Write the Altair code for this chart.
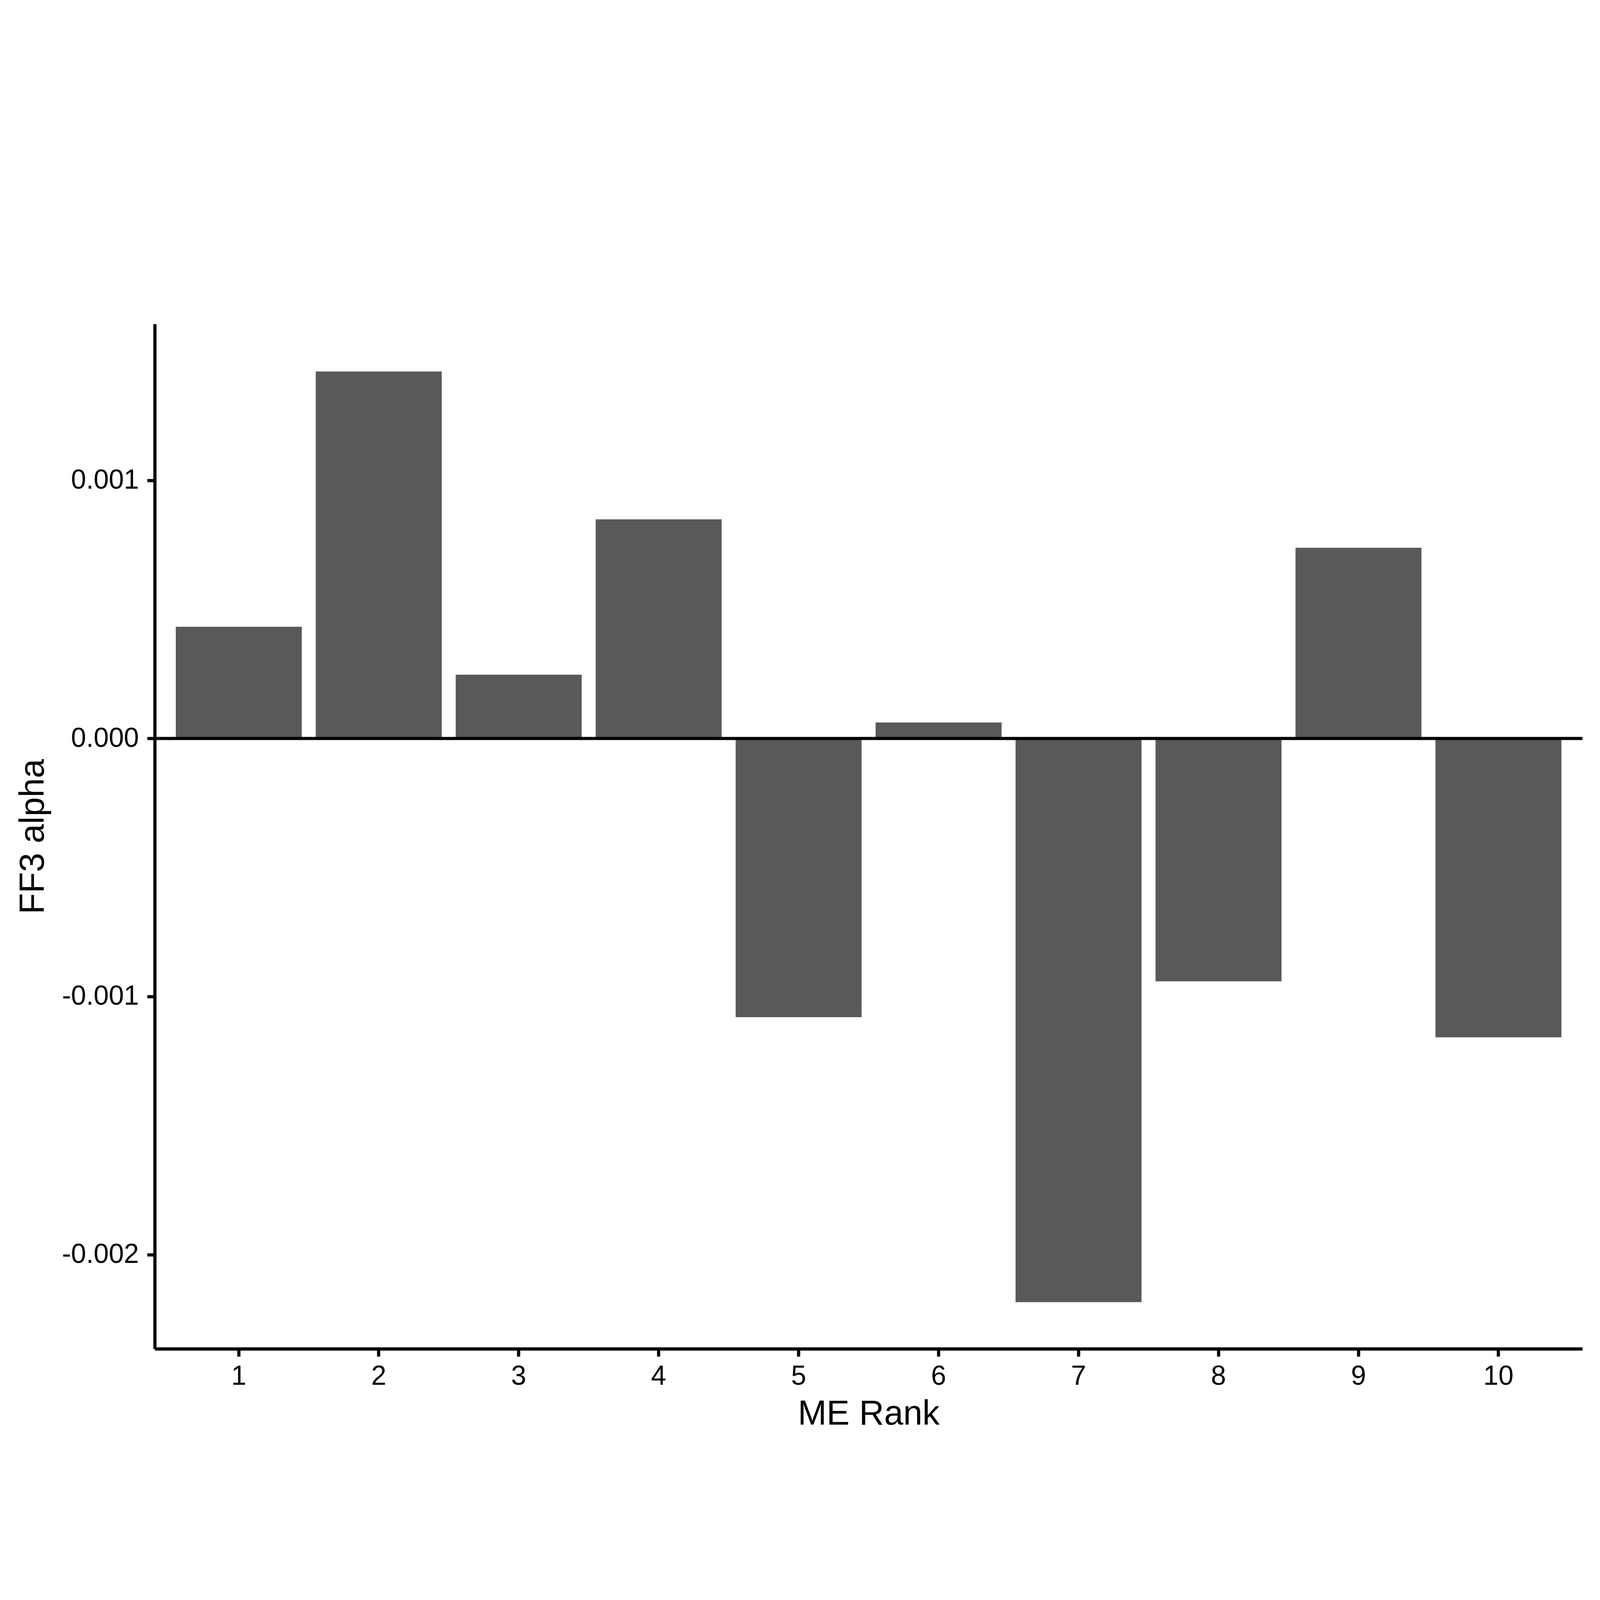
import altair as alt
import pandas as pd

ranks = [1, 2, 3, 4, 5, 6, 7, 8, 9, 10]
alphas = [0.000433, 0.001422, 0.000247, 0.000849, -0.001080,
          0.000062, -0.002184, -0.000941, 0.000739, -0.001158]
y_ticks = [-0.002, -0.001, 0.0, 0.001]
y_domain = [-0.002365, 0.001606]

df = pd.DataFrame({"rank": ranks, "alpha": alphas})
zero_df = pd.DataFrame({"y": [0.0]})

W = 5629
H = 4041

bars = alt.Chart(df).mark_bar(color="#595959").encode(
    x=alt.X(
        "rank:O",
        title="ME Rank",
        scale=alt.Scale(paddingInner=0.1, paddingOuter=0.15),
        axis=alt.Axis(
            labelAngle=0,
            labelPadding=26,
            titleY=298,
            titleBaseline="alphabetic",
        ),
    ),
    y=alt.Y(
        "alpha:Q",
        title="FF3 alpha",
        scale=alt.Scale(domain=y_domain, nice=False, zero=False),
        axis=alt.Axis(
            values=y_ticks,
            labelExpr="datum.value < 0 ? '-' + format(-datum.value, '.3f') : format(datum.value, '.3f')",
            labelPadding=33,
            titleAngle=270,
            titleX=-439,
            titleY=H / 2,
            titleAlign="center",
            titleBaseline="alphabetic",
        ),
    ),
    y2=alt.datum(0),
)

zero_line = alt.Chart(zero_df).mark_rule(color="black", strokeWidth=12.5).encode(
    y="y:Q"
)

chart = (
    alt.layer(bars, zero_line)
    .properties(
        width=W,
        height=H,
        autosize=alt.AutoSizeParams(type="none"),
        padding={"left": 598, "top": 54, "right": 57, "bottom": 389},
        background="white",
    )
    .configure_view(strokeOpacity=0)
    .configure_axis(
        grid=False,
        domainColor="black",
        domainWidth=12.5,
        tickColor="black",
        tickWidth=12.5,
        tickSize=30,
        labelColor="black",
        labelFont="Liberation Sans",
        labelFontSize=107,
        labelLimit=0,
        titleColor="black",
        titleFont="Liberation Sans",
        titleFontSize=136,
        titleFontWeight="normal",
    )
)

chart.save("out.html", embed_options={"renderer": "svg", "actions": False})
